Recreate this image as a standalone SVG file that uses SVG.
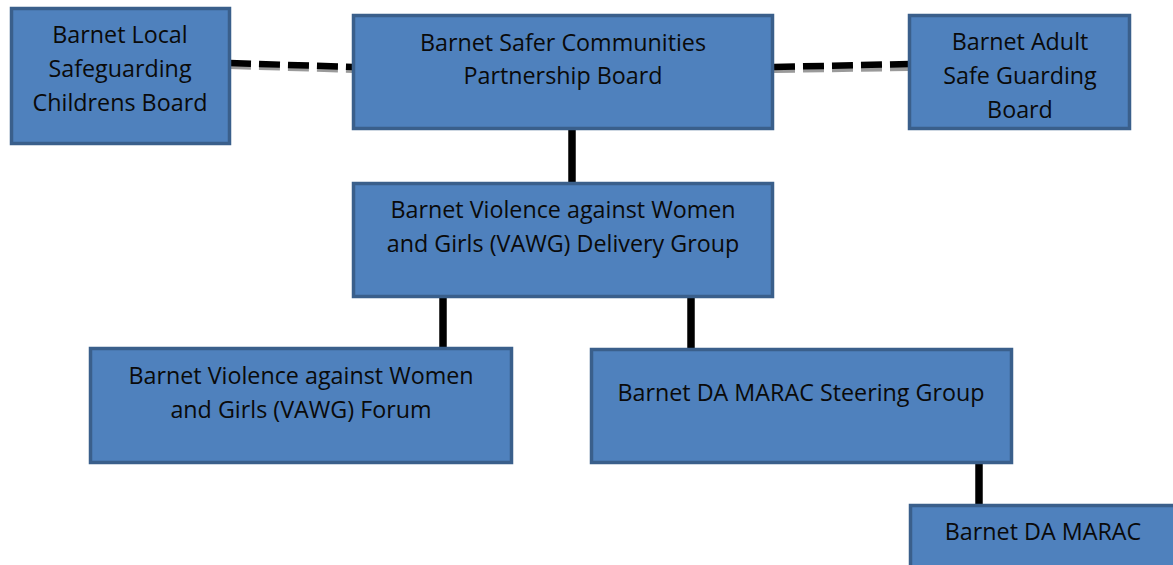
<svg xmlns="http://www.w3.org/2000/svg" width="1173" height="565" viewBox="0 0 1173 565">
<style>
.box{fill:#4f81bd;stroke:#3a5f8b;stroke-width:3.5}
.t{font-family:"Open Sans","Liberation Sans",sans-serif;font-size:23.3px;fill:#0a0a0a;text-anchor:middle}
.solid{stroke:#000;stroke-width:7.5;fill:none}
.dash{stroke:#000;stroke-width:6.5;stroke-dasharray:21 8;fill:none}
.dsh{stroke:#9a9a9a;stroke-width:6;stroke-dasharray:21 8;fill:none}
</style>
<rect width="1173" height="565" fill="#fff"/>
<g id="connectors">
<path class="dsh" d="M230 66 L353 70"/>
<path class="dash" d="M230 63 L353 67"/>
<path class="dsh" d="M774 70 L909 68"/>
<path class="dash" d="M774 67 L909 64"/>
<path class="solid" d="M572 128 V184"/>
<path class="solid" d="M443 297 V350"/>
<path class="solid" d="M691 297 V350"/>
<path class="solid" d="M979 463 V506"/>
</g>
<g id="lscb">
<rect class="box" x="11.5" y="8.5" width="218" height="135"/>
<text class="t" x="120" y="43">Barnet Local</text>
<text class="t" x="120" y="77">Safeguarding</text>
<text class="t" x="120" y="111">Childrens Board</text>
</g>
<g id="scpb">
<rect class="box" x="353.5" y="15.5" width="419" height="113"/>
<text class="t" x="563" y="51">Barnet Safer Communities</text>
<text class="t" x="563" y="84">Partnership Board</text>
</g>
<g id="asgb">
<rect class="box" x="909.5" y="15.5" width="220" height="113"/>
<text class="t" x="1020" y="50">Barnet Adult</text>
<text class="t" x="1020" y="84">Safe Guarding</text>
<text class="t" x="1020" y="118">Board</text>
</g>
<g id="vawg-delivery">
<rect class="box" x="353.5" y="183.5" width="419" height="113"/>
<text class="t" x="563" y="218">Barnet Violence against Women</text>
<text class="t" x="563" y="252">and Girls (VAWG) Delivery Group</text>
</g>
<g id="vawg-forum">
<rect class="box" x="90.5" y="348.5" width="421" height="114"/>
<text class="t" x="301" y="384">Barnet Violence against Women</text>
<text class="t" x="301" y="418">and Girls (VAWG) Forum</text>
</g>
<g id="marac-steering">
<rect class="box" x="591.5" y="349.5" width="420" height="113"/>
<text class="t" x="801" y="401">Barnet DA MARAC Steering Group</text>
</g>
<g id="marac">
<rect class="box" x="910.5" y="505.5" width="270" height="70"/>
<text class="t" x="1043" y="540">Barnet DA MARAC</text>
</g>
</svg>
